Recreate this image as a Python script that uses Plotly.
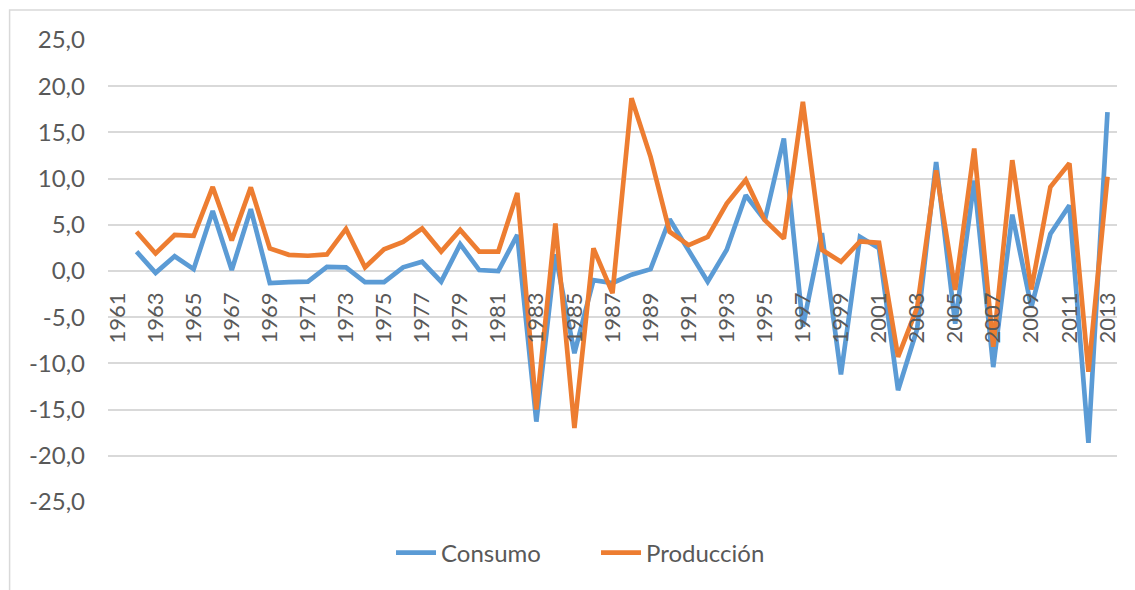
import plotly.graph_objects as go

# Years on the category axis (1961 has no data point)
years = list(range(1962, 2014))

consumo = [
    2.1, -0.2, 1.6, 0.2, 6.5, 0.1, 6.7, -1.3, -1.2, -1.15,
    0.45, 0.4, -1.2, -1.2, 0.4, 1.0, -1.15, 2.9, 0.1, 0.0,
    3.9, -16.3, 1.8, -8.9, -1.0, -1.3, -0.4, 0.2, 5.6, 2.3,
    -1.15, 2.3, 8.2, 5.5, 14.35, -6.0, 4.1, -11.2, 3.7, 2.45,
    -12.9, -6.3, 11.8, -5.7, 9.8, -10.4, 6.1, -3.9, 4.0, 7.1,
    -18.6, 17.2,
]

produccion = [
    4.25, 1.9, 3.9, 3.8, 9.1, 3.3, 9.05, 2.45, 1.75, 1.65,
    1.8, 4.55, 0.4, 2.35, 3.15, 4.6, 2.1, 4.45, 2.1, 2.1,
    8.45, -15.0, 5.15, -17.0, 2.45, -2.4, 18.7, 12.35, 4.25, 2.8,
    3.7, 7.3, 9.85, 5.5, 3.5, 18.3, 2.3, 1.0, 3.2, 3.05,
    -9.3, -4.0, 10.9, -2.05, 13.25, -8.2, 12.0, -2.0, 9.1, 11.65,
    -10.9, 10.2,
]

x_tick_years = list(range(1961, 2014, 2))
x_tick_labels = [str(y) for y in x_tick_years]

y_tick_vals = [-25, -20, -15, -10, -5, 0, 5, 10, 15, 20, 25]
y_tick_labels = ["-25,0", "-20,0", "-15,0", "-10,0", "-5,0", "0,0",
                 "5,0", "10,0", "15,0", "20,0", "25,0"]

W, H = 1135, 590
ML, MR, MT, MB = 107.5, 17.5, 40, 88
pw = W - ML - MR
ph = H - MT - MB

text_color = "#595959"
font_family = "Lato, 'Open Sans', sans-serif"

fig = go.Figure()
fig.add_trace(go.Scatter(
    x=years, y=consumo, name="Consumo", mode="lines",
    line=dict(color="#5B9BD5", width=4.7),
))
fig.add_trace(go.Scatter(
    x=years, y=produccion, name="Producción", mode="lines",
    line=dict(color="#ED7D31", width=4.7),
))

def px_x(p):
    return (p - ML) / pw

def px_y(p):
    return (H - MB - p) / ph

# chart frame (light border on the left and top)
fig.add_shape(
    type="rect", xref="paper", yref="paper",
    x0=px_x(9), x1=px_x(W + 20), y0=px_y(H + 20), y1=px_y(10),
    line=dict(color="#d9d9d9", width=1.5), fillcolor="rgba(0,0,0,0)",
    layer="below",
)

fig.update_layout(
    width=W, height=H,
    margin=dict(l=ML, r=MR, t=MT, b=MB),
    paper_bgcolor="white", plot_bgcolor="white",
    font=dict(family=font_family, size=22, color=text_color),
    showlegend=True,
    legend=dict(
        orientation="h", x=px_x(596), xanchor="center",
        y=px_y(553), yanchor="middle",
        font=dict(size=24, color=text_color),
        itemwidth=40, traceorder="normal",
        entrywidth=150, entrywidthmode="pixels",
        bgcolor="rgba(0,0,0,0)",
    ),
    xaxis=dict(
        range=[1960.5, 2013.5],
        tickvals=x_tick_years, ticktext=x_tick_labels,
        tickangle=-90, showgrid=False, zeroline=False,
        showline=False, ticks="", anchor="free", position=0.5,
        ticklabelstandoff=16,
        tickfont=dict(size=22, color=text_color),
    ),
    yaxis=dict(
        range=[-25, 25],
        tickvals=y_tick_vals, ticktext=y_tick_labels,
        showgrid=True, gridcolor="#d9d9d9", gridwidth=1.5,
        zeroline=False, showline=False, ticks="",
        ticklabelstandoff=22,
        tickfont=dict(size=24, color=text_color),
    ),
)

fig.write_html("out.html")
